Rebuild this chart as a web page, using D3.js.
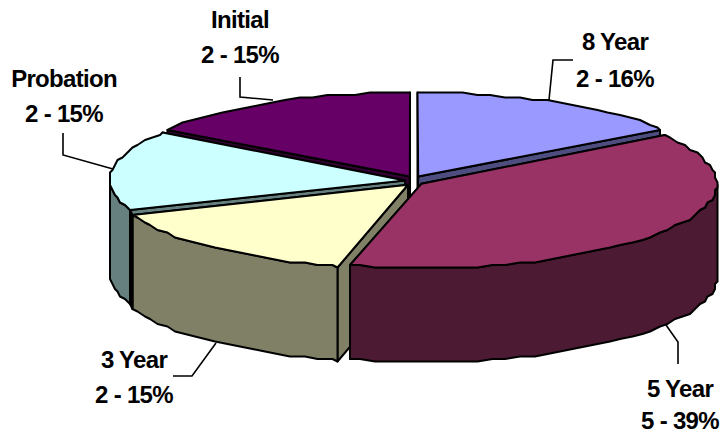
<!DOCTYPE html>
<html>
<head>
<meta charset="utf-8">
<script src="https://cdn.jsdelivr.net/npm/d3@7"></script>
<style>
  html, body { margin: 0; padding: 0; background: #fff; }
  svg { display: block; }
  text { font-family: "Liberation Sans", Arial, sans-serif; font-weight: bold; font-size: 24px; letter-spacing: -0.7px; fill: #000; }
</style>
</head>
<body>
<div id="chart"></div>
<script>
const categories = ['8 Year', '5 Year', '3 Year', 'Probation', 'Initial']
const counts = [2, 5, 2, 2, 2]
const percents = ['16%', '39%', '15%', '15%', '15%']
const topColors = ['#9999ff', '#993366', '#ffffcc', '#ccffff', '#660066']
const wallColors = ['#4d4d80', '#4d1a33', '#808066', '#668080', '#330033']

const width = 721
const height = 434
const cx = 414
const cy = 181
const rx = 295
const ry = 84
const depth = 94
const explodeX = 9
const explodeY = 5
const step = 0.05

const svg = d3.select('#chart').append('svg')
  .attr('width', width)
  .attr('height', height)

const slices = d3.pie().sort(null)(counts).map((d, i) => {
  const mid = (d.startAngle + d.endAngle) / 2
  return {
    index: i,
    start: d.startAngle,
    end: d.endAngle,
    tx: cx + explodeX * Math.sin(mid),
    ty: cy - explodeY * Math.cos(mid)
  }
})

// the original is a low-res metafile, so the rims are slightly stepped
const snap = v => Math.round(v / 2.5) * 2.5

const rim = (s, a) => [snap(s.tx + rx * Math.sin(a)), snap(s.ty - ry * Math.cos(a))]

// sample on a fixed angle grid so the top face and the wall share their jags
const arcPoints = (s, a0, a1) => {
  const inner = d3.range(Math.ceil(a0 / step), Math.floor(a1 / step) + 1).map(k => k * step)
  return [a0, ...inner, a1].map(a => rim(s, a))
}

const line = d3.line().curve(d3.curveLinear)
const down = p => [p[0], p[1] + depth]

const drawPoly = (pts, fill) => svg.append('path')
  .attr('d', line(pts) + 'Z')
  .attr('fill', fill)
  .attr('stroke', '#000')
  .attr('stroke-width', 2)
  .attr('stroke-linejoin', 'round')

const drawSlice = s => {
  const wall = wallColors[s.index]
  const tip = [s.tx, s.ty]

  // radial walls, the one further front goes last
  const edges = [rim(s, s.start), rim(s, s.end)].sort((a, b) => a[1] - b[1])
  edges.forEach(p => drawPoly([tip, p, down(p), down(tip)], wall))

  // outer wall, front half of the ellipse only
  const a0 = Math.max(s.start, Math.PI / 2)
  const a1 = Math.min(s.end, Math.PI * 1.5)
  if (a1 > a0) {
    const front = arcPoints(s, a0, a1)
    drawPoly(front.concat(front.map(down).reverse()), wall)
  }

  drawPoly([tip].concat(arcPoints(s, s.start, s.end)), topColors[s.index])
}

// back to front
;[4, 0, 3, 2, 1].forEach(i => drawSlice(slices[i]))

// dark seam where the Probation and 3 Year walls meet
const seamA = rim(slices[3], slices[3].start)
const seamB = rim(slices[2], slices[2].end)
drawPoly([seamA, seamB, down(seamB), down(seamA)], '#000')

const leaders = [
  [[549, 100], [553, 60], [573, 60]],
  [[666, 325], [678, 342], [678, 364]],
  [[216, 343], [192, 376], [173, 376]],
  [[113, 169], [63, 155], [63, 133]],
  [[273, 100], [240, 97], [240, 77]]
]

svg.selectAll('.leader')
  .data(leaders)
  .join('path')
  .attr('class', 'leader')
  .attr('d', d => line(d))
  .attr('fill', 'none')
  .attr('stroke', '#000')
  .attr('stroke-width', 1.6)

const labelPos = [
  { x: 615, y1: 50, y2: 87 },
  { x: 680, y1: 397, y2: 428.5 },
  { x: 134, y1: 368, y2: 403 },
  { x: 64, y1: 87, y2: 122 },
  { x: 240, y1: 28, y2: 63 }
]

labelPos.forEach((p, i) => {
  svg.append('text')
    .attr('x', p.x)
    .attr('y', p.y1)
    .attr('text-anchor', 'middle')
    .text(categories[i])
  svg.append('text')
    .attr('x', p.x)
    .attr('y', p.y2)
    .attr('text-anchor', 'middle')
    .text(`${counts[i]} - ${percents[i]}`)
})
</script>
</body>
</html>
